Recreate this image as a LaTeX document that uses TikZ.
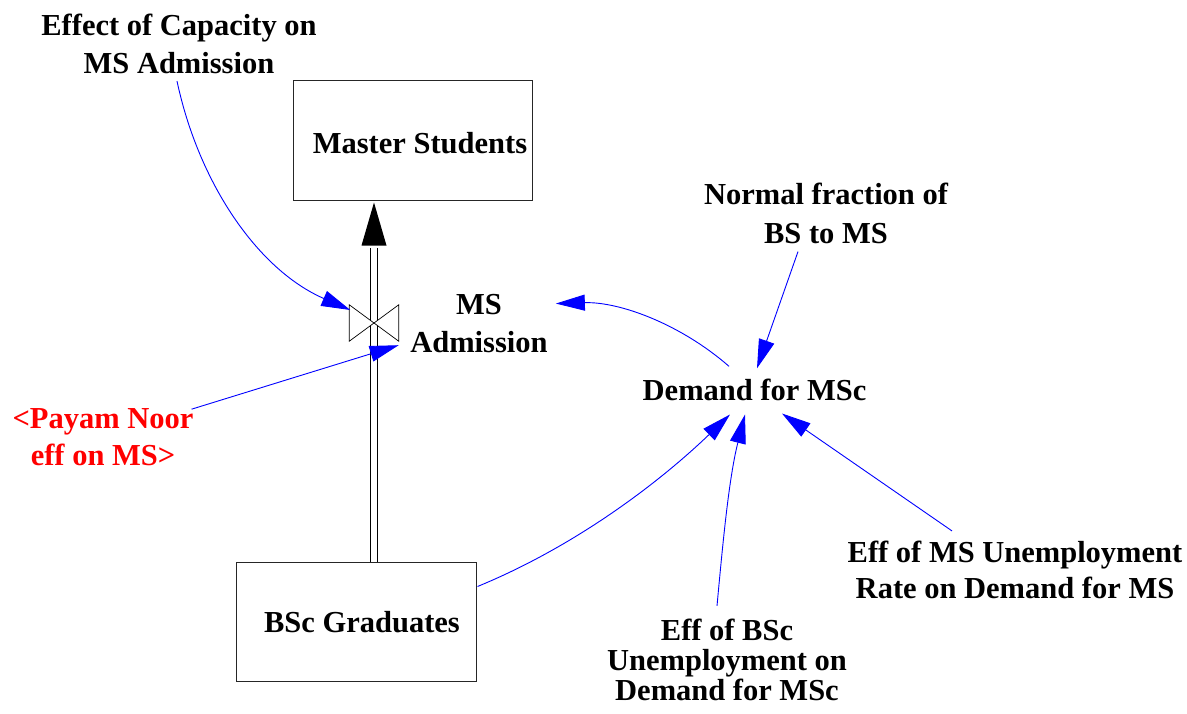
\documentclass[tikz,border=0pt]{standalone}
\usepackage{fontspec}
\setmainfont{Liberation Serif}
\usetikzlibrary{arrows.meta}
\definecolor{linkblue}{RGB}{0,0,255}
\definecolor{shadowred}{RGB}{255,0,0}
\begin{document}
\begin{tikzpicture}[x=1pt,y=-1pt,
  lbl/.style={font=\bfseries\fontsize{30.5}{38}\selectfont, align=center, inner sep=0pt},
  stock/.style={draw=black!85, line width=1pt, inner sep=0pt},
  link/.style={draw=linkblue, line width=0.9pt, -{Triangle[length=29pt,width=16pt]}, fill=none},
  pipe/.style={draw=black, line width=0.9pt, double=white, double distance=6pt},
  valveshape/.style={draw=black, fill=white, line width=0.7pt}]
\useasboundingbox (0,0) rectangle (1187,713);

% stocks
\node[stock, minimum width=239pt, minimum height=120pt] (ms) at (412.5,140) {};
\node[lbl, anchor=base] (mstext) at (420,153) {Master Students};
\node[stock, minimum width=240pt, minimum height=119pt] (bsc) at (356,621.5) {};
\node[lbl, anchor=base] (bsctext) at (362,632) {BSc Graduates};

% flow valve
\node[inner sep=0pt, minimum width=49pt, minimum height=36pt] (valve) at (374,323) {};
\node[lbl] (adm) at (479,324) {MS\\Admission};

% auxiliaries
\node[lbl] (cap) at (179,44) {Effect of Capacity on\\MS Admission};
\node[lbl, font=\bfseries\fontsize{30.5}{39}\selectfont] (normal) at (826,213) {Normal fraction of\\BS to MS};
\node[lbl, anchor=base] (demand) at (754.5,400) {Demand for MSc};
\node[lbl, text=shadowred, font=\bfseries\fontsize{30.5}{37}\selectfont] (payam) at (103,437) {<Payam Noor\\eff on MS>};
\node[lbl, font=\bfseries\fontsize{30.5}{36}\selectfont] (effms) at (1015,570) {Eff of MS Unemployment\\Rate on Demand for MS};
\node[lbl, font=\bfseries\fontsize{30.5}{30}\selectfont] (effbsc) at (727,660) {Eff of BSc\\Unemployment on\\Demand for MSc};

% flow pipe from BSc Graduates up to Master Students
\path (valve.center |- ms.south) ++(0,2) coordinate (pipetip) ++(0,43) coordinate (pipebase);
\draw[pipe] (valve.center |- bsc.north) -- ([shift={(0,2)}]pipebase);
\fill[black] (pipetip) -- ([shift={(12.5,0)}]pipebase) -- ([shift={(-12.5,0)}]pipebase) -- cycle;
\filldraw[valveshape] (valve.north west) -- (valve.south east) -- (valve.north east) -- (valve.south west) -- cycle;

% information links
\draw[link] ([shift={(-2,7)}]cap.south) .. controls +(22,103) and +(-92,-40) .. ([shift={(1,-13)}]valve.west);
\draw[link] ([shift={(-2,1)}]payam.north east) -- ([shift={(0,4)}]valve.south east);
\draw[link] ([shift={(-25.5,-12)}]demand.north) .. controls +(-48,-42) and +(64,-2) .. ([shift={(8,9)}]adm.north east);
\draw[link] ([shift={(-28,8)}]normal.south) -- ([shift={(2.5,-10)}]demand.north);
\draw[link] ([shift={(1,25)}]bsc.north east) .. controls +(95,-39) and +(-74,71) .. ([shift={(-24.5,14)}]demand.south);
\draw[link] ([shift={(-10,-13)}]effbsc.north) .. controls +(6,-65) and +(-16,63) .. ([shift={(-9.5,14)}]demand.south);
\draw[link] ([shift={(-63,-10)}]effms.north) -- ([shift={(27.5,13)}]demand.south);
\end{tikzpicture}
\end{document}
